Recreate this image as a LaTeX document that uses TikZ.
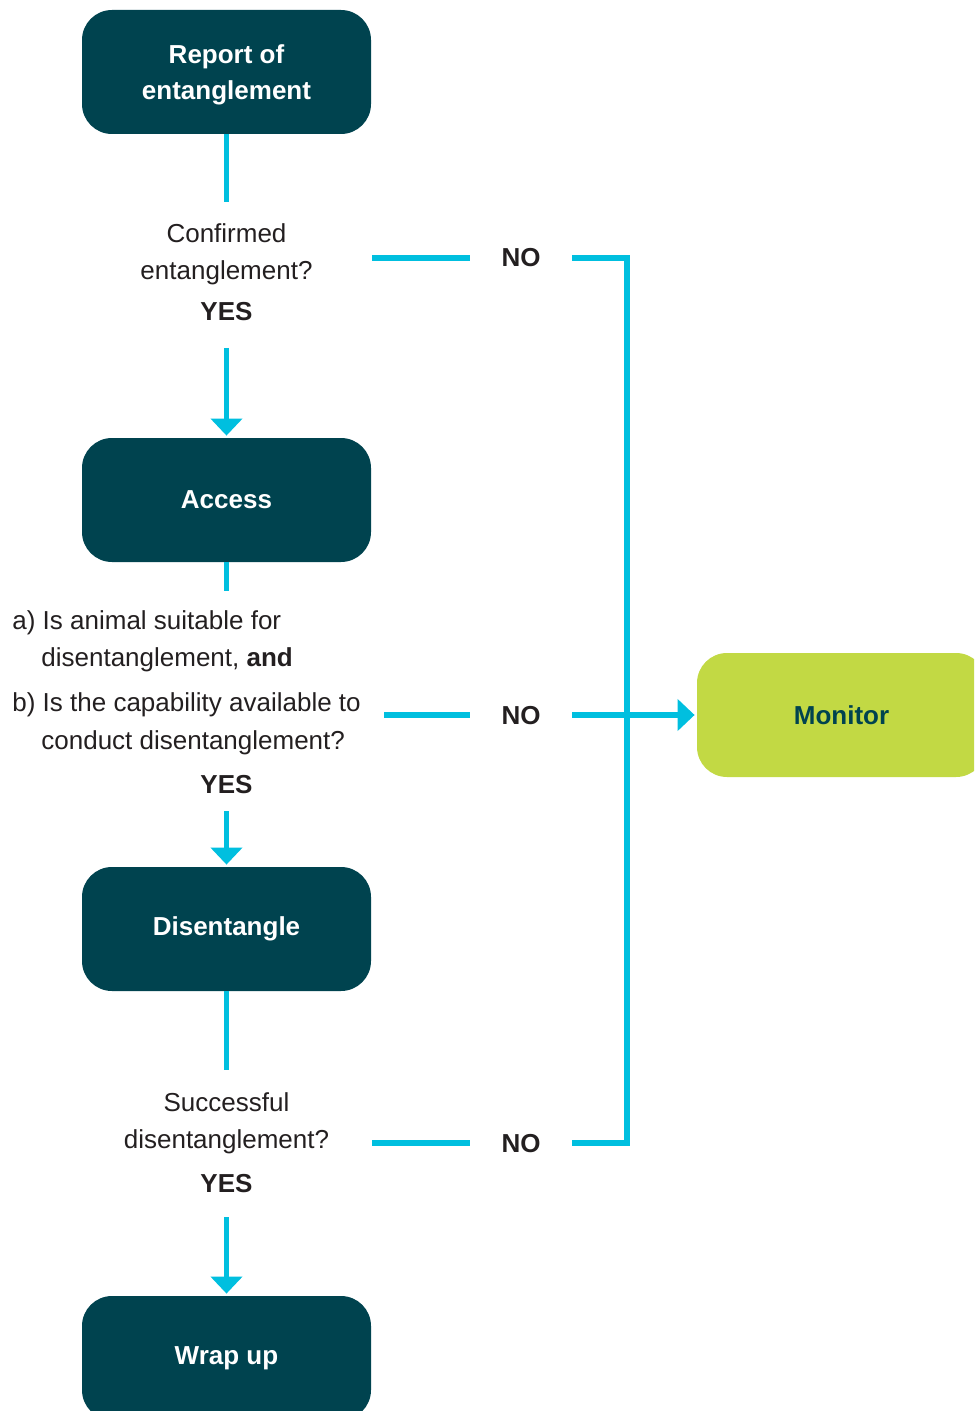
\documentclass[tikz,border=0pt]{standalone}
\usepackage{fontspec}
\setmainfont{Liberation Sans}
\usetikzlibrary{arrows.meta}
\definecolor{teal}{HTML}{00434F}
\definecolor{cyanl}{HTML}{00BFDF}
\definecolor{lime}{HTML}{C2D944}
\definecolor{txt}{HTML}{231F20}
\tikzset{
  box/.style={fill=teal, text=white, font=\fontsize{13pt}{18pt}\selectfont\bfseries,
    rounded corners=15pt, minimum width=144.5pt, minimum height=62pt, align=center, inner sep=0pt},
  monbox/.style={box, fill=lime, text=teal},
  qtext/.style={text=txt, font=\fontsize{13pt}{18pt}\selectfont, inner sep=0pt},
  ans/.style={text=txt, font=\fontsize{13pt}{18pt}\selectfont\bfseries, inner sep=0pt},
  flow/.style={draw=cyanl, line width=2.75pt, line join=miter},
  tip/.style={-{Triangle[width=15.5pt,length=8.5pt]}, shorten >=1pt},
}
\begin{document}
\begin{tikzpicture}[x=0.5pt,y=-0.5pt]
\useasboundingbox (0,0) rectangle (974,1411);
\clip (0,0) rectangle (974,1411);
% boxes
\node[box, text height=30.2pt, text depth=2.7pt] (report) at (226.5,72) {Report of\\entanglement};
\node[box] (access) at (226.5,500) {Access};
\node[box] (disent) at (226.5,929) {Disentangle};
\node[box] (wrap) at (226.5,1358) {Wrap up};
\node[monbox] (monitor) at (841.5,715) {Monitor};
% question 1
\node[qtext, anchor=base] (q1a) at (226.5,243) {Confirmed};
\node[qtext, anchor=base] (q1b) at (226.5,280) {entanglement?};
\node[ans, anchor=base] (yes1) at (226.5,321) {YES};
\node[ans, anchor=base] (no1) at (521,267) {NO};
% question 2
\node[qtext, anchor=base west] (q2a) at (12,629) {a) Is animal suitable for};
\node[qtext, anchor=base west] (q2b) at (41,666) {disentanglement, \textbf{and}};
\node[qtext, anchor=base west] (q2c) at (12,711) {b) Is the capability available to};
\node[qtext, anchor=base west] (q2d) at (41,749) {conduct disentanglement?};
\node[ans, anchor=base] (yes2) at (226.5,793) {YES};
\node[ans, anchor=base] (no2) at (521,724) {NO};
% question 3
\node[qtext, anchor=base] (q3a) at (226.5,1111) {Successful};
\node[qtext, anchor=base] (q3b) at (226.5,1148) {disentanglement?};
\node[ans, anchor=base] (yes3) at (226.5,1192) {YES};
\node[ans, anchor=base] (no3) at (521,1152) {NO};
% coordinates
\coordinate (c1) at (226.5,202);
\coordinate (c2) at (226.5,348);
\coordinate (c3) at (226.5,591);
\coordinate (c4) at (226.5,811);
\coordinate (c5) at (226.5,1070);
\coordinate (c6) at (226.5,1217);
\coordinate (n1a) at (372,258);
\coordinate (n1b) at (470,258);
\coordinate (n1c) at (572,258);
\coordinate (n2a) at (384,715);
\coordinate (n2b) at (470,715);
\coordinate (n2c) at (572,715);
\coordinate (n3a) at (372,1143);
\coordinate (n3b) at (470,1143);
\coordinate (n3c) at (572,1143);
\coordinate (bt) at (627,258);
\coordinate (bb) at (627,1143);
% connectors
\draw[flow] (report.south) -- (c1);
\draw[flow, tip] (c2) -- (access.north);
\draw[flow] (access.south) -- (c3);
\draw[flow, tip] (c4) -- (disent.north);
\draw[flow] (disent.south) -- (c5);
\draw[flow, tip] (c6) -- (wrap.north);
\draw[flow] (n1a) -- (n1b);
\draw[flow] (n2a) -- (n2b);
\draw[flow] (n3a) -- (n3b);
\draw[flow] (n1c) -- (bt) -- (bb) -- (n3c);
\draw[flow, tip] (n2c) -- (monitor.west);
\end{tikzpicture}
\end{document}
